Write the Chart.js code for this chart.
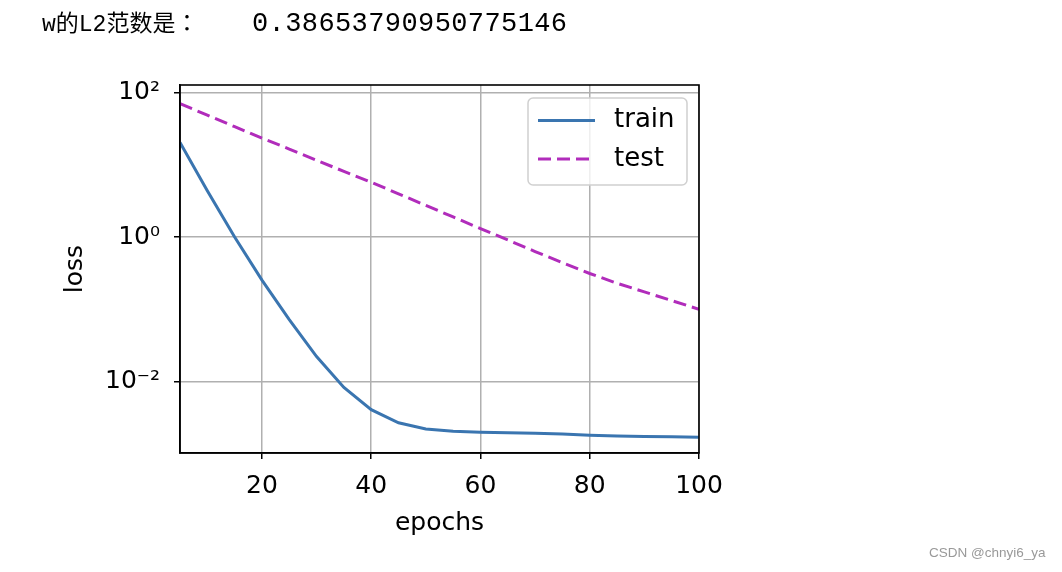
<!doctype html>
<html>

<head>
	<title>L2 norm loss</title>
	<script src="https://cdn.jsdelivr.net/npm/chart.js@4/dist/chart.umd.min.js"></script>
	<style>
		body { margin: 0; background: #fff; }
		#wrap { position: relative; width: 1062px; height: 572px; }
		#head { position: absolute; left: 42px; top: 8px; font-size: 24px; line-height: 30px; color: #000; white-space: pre;
			font-family: "Liberation Mono", "Noto Sans CJK SC", monospace; }
		#head .lbl { position: relative; top: -2px; font-size: 23px; }
		#head .colon { font-family: "Noto Sans CJK JP"; }
		#head .num { position: absolute; left: 210px; top: 1px; font-size: 27px; letter-spacing: 0.4px; }
		#mark { position: absolute; left: 929px; top: 545px; font: 13.5px "Liberation Sans", Arial, sans-serif; color: #999; }
	</style>
</head>

<body>
	<div id="wrap">
		<canvas id="chart-area" width="1062" height="572"></canvas>
		<div id="head"><span class="lbl">w的L2范数是<span class="colon">：</span></span><span class="num">0.38653790950775146</span></div>
		<div id="mark">CSDN @chnyi6_ya</div>
	</div>
	<script>
		var epochs = [5, 10, 15, 20, 25, 30, 35, 40, 45, 50, 55, 60, 65, 70, 75, 80, 85, 90, 95, 100];
		var trainLoss = [20.4, 4.4, 1.0, 0.253, 0.072, 0.0221, 0.00826, 0.00407, 0.00267, 0.0022,
			0.00204, 0.00198, 0.00195, 0.00192, 0.00187, 0.0018, 0.00175, 0.00172, 0.00171, 0.00169];
		var testLoss = [70.5, 49.0, 33.9, 23.5, 16.6, 11.6, 8.13, 5.74, 3.98, 2.75,
			1.90, 1.31, 0.912, 0.631, 0.442, 0.313, 0.229, 0.174, 0.132, 0.100];
		var seriesNames = ['train', 'test'];
		var xTicks = [20, 40, 60, 80, 100];
		var yTicks = [0.01, 1, 100];
		var yTickLabels = ['10⁻²', '10⁰', '10²'];

		var FONT = 'DejaVu Sans';
		var FS = 25;

		function pts(ys) {
			return epochs.map(function(e, i) { return { x: e, y: ys[i] }; });
		}

		// matplotlib style frame + legend inside the axes
		var framePlugin = {
			id: 'frame',
			afterDraw: function(chart) {
				var ctx = chart.ctx, a = chart.chartArea;
				ctx.save();
				ctx.strokeStyle = '#000';
				ctx.lineWidth = 1.6;
				ctx.strokeRect(a.left, a.top, a.right - a.left, a.bottom - a.top);

				var bx = a.right - 171, by = a.top + 13, bw = 159, bh = 87;
				ctx.beginPath();
				ctx.roundRect(bx, by, bw, bh, 5);
				ctx.fillStyle = 'rgba(255,255,255,0.8)';
				ctx.fill();
				ctx.strokeStyle = '#d0d0d0';
				ctx.lineWidth = 1.5;
				ctx.stroke();

				ctx.font = '26px "' + FONT + '"';
				ctx.textBaseline = 'middle';
				chart.data.datasets.forEach(function(ds, i) {
					var y = by + 22.5 + i * 38.6;
					ctx.beginPath();
					ctx.setLineDash(ds.borderDash || []);
					ctx.strokeStyle = ds.borderColor;
					ctx.lineWidth = ds.borderWidth;
					ctx.moveTo(bx + 10, y);
					ctx.lineTo(bx + 67, y);
					ctx.stroke();
					ctx.setLineDash([]);
					ctx.fillStyle = '#000';
					ctx.fillText(ds.label, bx + 86, y);
				});
				ctx.restore();
			}
		};

		var config = {
			type: 'line',
			data: {
				datasets: [{
					label: seriesNames[0],
					data: pts(trainLoss),
					borderColor: '#3a75b0',
					borderWidth: 3,
					pointRadius: 0,
					tension: 0,
					fill: false
				}, {
					label: seriesNames[1],
					data: pts(testLoss),
					borderColor: '#b12cbb',
					borderWidth: 3,
					borderDash: [13, 6],
					pointRadius: 0,
					tension: 0,
					fill: false
				}]
			},
			options: {
				responsive: false,
				animation: false,
				layout: { padding: { top: 85, right: 363, bottom: 34, left: 61 } },
				plugins: {
					legend: { display: false },
					tooltip: { enabled: false }
				},
				scales: {
					x: {
						type: 'linear',
						min: 5,
						max: 100,
						afterBuildTicks: function(s) { s.ticks = xTicks.map(function(v) { return { value: v }; }); },
						afterFit: function(s) { s.height = 85; },
						ticks: { color: '#000', padding: 12, font: { family: FONT, size: FS }, maxRotation: 0 },
						grid: { color: '#b0b0b0', lineWidth: 1.5, tickColor: '#000', tickLength: 6, tickWidth: 1.5 },
						border: { color: '#000', width: 1.6 },
						title: { display: true, text: 'epochs', color: '#000', padding: 0,
							font: { family: FONT, size: FS, lineHeight: 1.15 } }
					},
					y: {
						type: 'logarithmic',
						min: 0.00102,
						max: 128,
						afterBuildTicks: function(s) { s.ticks = yTicks.map(function(v) { return { value: v }; }); },
						afterFit: function(s) { s.width = 119; },
						ticks: {
							color: '#000', padding: 14, font: { family: FONT, size: FS },
							callback: function(v) {
								var i = yTicks.indexOf(v);
								return i >= 0 ? yTickLabels[i] : '';
							}
						},
						grid: { color: '#b0b0b0', lineWidth: 1.5, tickColor: '#000', tickLength: 6, tickWidth: 1.5 },
						border: { color: '#000', width: 1.6 },
						title: { display: true, text: 'loss', color: '#000', padding: 0,
							font: { family: FONT, size: FS, lineHeight: 1.15 } }
					}
				}
			},
			plugins: [framePlugin]
		};

		window.onload = function() {
			var ctx = document.getElementById('chart-area').getContext('2d');
			window.myLine = new Chart(ctx, config);
		};
	</script>
</body>

</html>
